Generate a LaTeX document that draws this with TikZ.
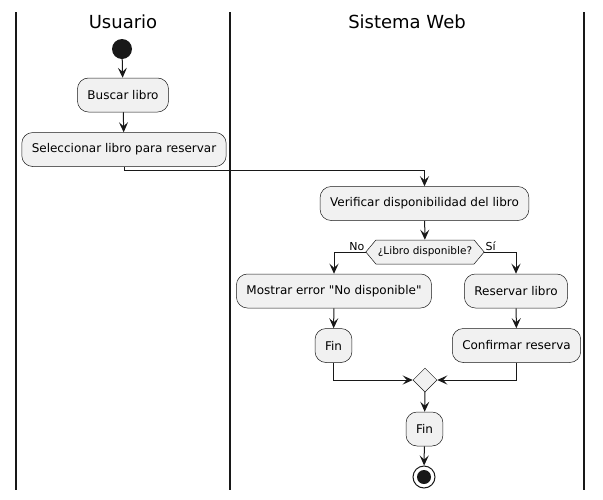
\documentclass[tikz,border=0pt]{standalone}
\usepackage{fontspec}
\setmainfont{DejaVu Sans}
\newfontfamily\plainsans{DejaVu Sans}
\usetikzlibrary{arrows.meta,shapes.geometric,shapes.symbols}
\definecolor{boxfill}{HTML}{F1F1F1}
\definecolor{boxline}{HTML}{181818}
\begin{document}
\begin{tikzpicture}[x=1pt,y=-1pt,
  act/.style={draw=boxline,fill=boxfill,line width=0.5pt,rounded corners=11pt,
    minimum height=34pt,inner xsep=10pt,font=\plainsans\fontsize{12}{14}\selectfont},
  lane/.style={line width=1.5pt,boxline},
  title/.style={font=\fontsize{18}{21}\selectfont},
  flow/.style={line width=1pt,boxline,-{Stealth[length=10pt,width=9pt,inset=4pt]}},
  lbl/.style={font=\fontsize{11}{13}\selectfont,inner sep=1pt}
]
\useasboundingbox (0,0) rectangle (603,499);
% lanes
\coordinate (l1t) at (16,12); \coordinate (l1b) at (16,490);
\coordinate (l2t) at (230,12); \coordinate (l2b) at (230,490);
\coordinate (l3t) at (584,12); \coordinate (l3b) at (584,490);
\draw[lane] (l1t) -- (l1b);
\draw[lane] (l2t) -- (l2b);
\draw[lane] (l3t) -- (l3b);
\node[title] (tu) at (123,22) {Usuario};
\node[title] (ts) at (407,22) {Sistema Web};
% nodes
\node[circle,fill=boxline,minimum size=20pt,inner sep=0] (start) at (122,49) {};
\node[act] (buscar) at (123,95) {Buscar libro};
\node[act] (sel) at (124,149.5) {Seleccionar libro para reservar};
\node[act] (ver) at (424.5,203.5) {Verificar disponibilidad del libro};
\node[draw=boxline,fill=boxfill,line width=0.5pt,shape=signal,signal to=east and west,
  signal pointer angle=100,minimum height=24pt,inner xsep=2pt,inner ysep=0pt,
  font=\fontsize{10.5}{12}\selectfont] (dec) at (425,252) {¿Libro disponible?};
\node[act] (most) at (334,291) {Mostrar error "No disponible"};
\node[act] (fin1) at (333.5,345.5) {Fin};
\node[act] (res) at (516,291) {Reservar libro};
\node[act] (conf) at (516.5,345.5) {Confirmar reserva};
\node[draw=boxline,fill=boxfill,line width=0.5pt,diamond,minimum size=24pt,inner sep=0] (merge) at (425,380) {};
\node[act] (fin2) at (424.5,429) {Fin};
\node[circle,draw=boxline,line width=1pt,fill=white,minimum size=22pt,inner sep=0] (stop) at (424,477) {};
\node[circle,fill=boxline,minimum size=14pt,inner sep=0] (stopin) at (stop.center) {};
% connectors
\draw[flow] (start) -- (buscar);
\draw[flow] (buscar) -- (sel);
\draw[flow] (sel.south) -- ++(0,4) -| (ver.north);
\draw[flow] (ver) -- (dec);
\draw[flow] (dec.west) -| (most.north);
\draw[flow] (dec.east) -| (res.north);
\draw[flow] (most) -- (fin1);
\draw[flow] (res) -- (conf);
\draw[flow] (fin1.south) |- (merge.west);
\draw[flow] (conf.south) |- (merge.east);
\draw[flow] (merge) -- (fin2);
\draw[flow] (fin2) -- (stop);
\node[lbl,anchor=south east] (no) at (dec.west) {No};
\node[lbl,anchor=south west] (si) at (dec.east) {Sí};
\end{tikzpicture}
\end{document}
